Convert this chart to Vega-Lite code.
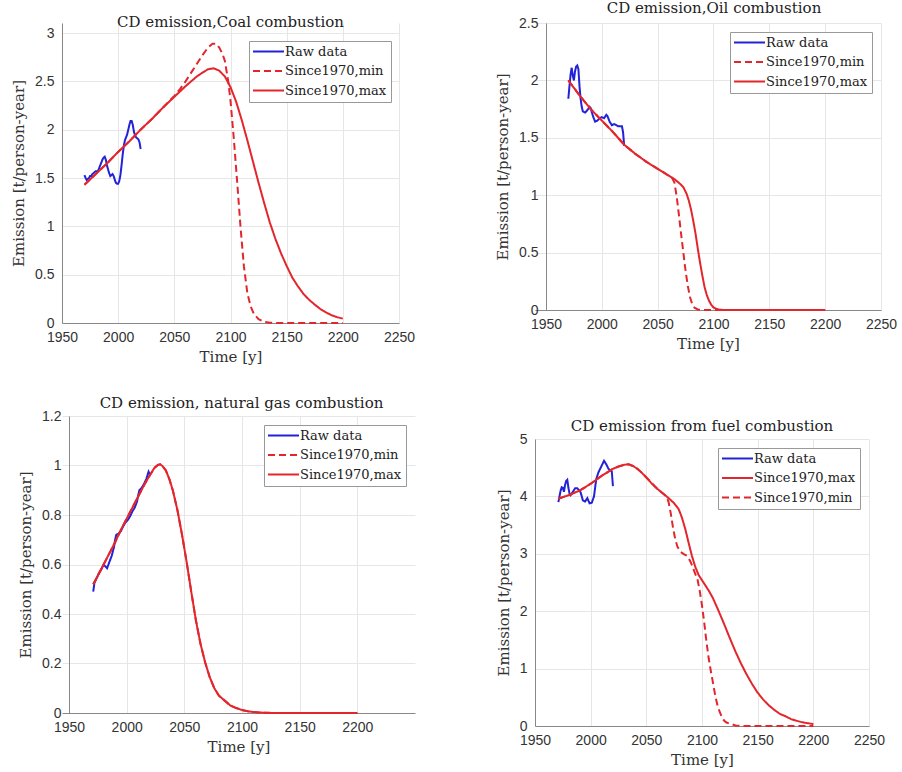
{
  "$schema": "https://vega.github.io/schema/vega-lite/v6.json",
  "background": "white",
  "padding": {"left": 11, "top": 1, "right": 5, "bottom": 5},
  "config": {
    "view": {"stroke": null},
    "font": "DejaVu Serif",
    "title": {"font": "DejaVu Serif", "fontSize": 15, "fontWeight": "normal", "color": "#222222", "offset": -2, "anchor": "middle"},
    "axis": {"labelFont": "Liberation Sans", "labelFontSize": 14, "labelColor": "#333333", "titleFont": "DejaVu Serif", "titleFontSize": 15, "titleFontWeight": "normal", "titleColor": "#333333", "gridColor": "#e6e6e6", "domainColor": "#888888", "ticks": false, "tickSize": 0, "labelPadding": 7, "titlePadding": 5},
    "axisX": {"labelFlush": false},
    "axisY": {"labelPadding": 8, "titlePadding": 8},
    "legend": {"orient": "top-right", "offset": 9, "labelFont": "DejaVu Serif", "labelFontSize": 13, "labelColor": "#222222", "symbolType": "M-1.3,0H4.9", "symbolSize": 100, "symbolStrokeWidth": 2, "strokeColor": "#999999", "fillColor": "white", "padding": 4, "rowPadding": 5.5, "labelOffset": 19, "labelLimit": 0}
  },
  "datasets": {
    "coal": [
      {"year": 1970, "value": 1.53, "series": "Raw data"}, {"year": 1971, "value": 1.50, "series": "Raw data"}, {"year": 1972, "value": 1.48, "series": "Raw data"}, {"year": 1973, "value": 1.49, "series": "Raw data"}, {"year": 1974, "value": 1.50, "series": "Raw data"}, {"year": 1975, "value": 1.52, "series": "Raw data"}, {"year": 1976, "value": 1.52, "series": "Raw data"}, {"year": 1977, "value": 1.54, "series": "Raw data"}, {"year": 1978, "value": 1.55, "series": "Raw data"}, {"year": 1979, "value": 1.56, "series": "Raw data"}, {"year": 1980, "value": 1.57, "series": "Raw data"}, {"year": 1981, "value": 1.57, "series": "Raw data"}, {"year": 1982, "value": 1.57, "series": "Raw data"}, {"year": 1983, "value": 1.60, "series": "Raw data"}, {"year": 1984, "value": 1.63, "series": "Raw data"}, {"year": 1985, "value": 1.66, "series": "Raw data"}, {"year": 1986, "value": 1.69, "series": "Raw data"}, {"year": 1987, "value": 1.71, "series": "Raw data"}, {"year": 1988, "value": 1.72, "series": "Raw data"}, {"year": 1989, "value": 1.69, "series": "Raw data"}, {"year": 1990, "value": 1.63, "series": "Raw data"}, {"year": 1991, "value": 1.59, "series": "Raw data"}, {"year": 1992, "value": 1.55, "series": "Raw data"}, {"year": 1993, "value": 1.52, "series": "Raw data"}, {"year": 1994, "value": 1.53, "series": "Raw data"}, {"year": 1995, "value": 1.54, "series": "Raw data"}, {"year": 1996, "value": 1.52, "series": "Raw data"}, {"year": 1997, "value": 1.48, "series": "Raw data"}, {"year": 1998, "value": 1.45, "series": "Raw data"}, {"year": 1999, "value": 1.44, "series": "Raw data"}, {"year": 2000, "value": 1.44, "series": "Raw data"}, {"year": 2001, "value": 1.47, "series": "Raw data"}, {"year": 2002, "value": 1.53, "series": "Raw data"}, {"year": 2003, "value": 1.63, "series": "Raw data"}, {"year": 2004, "value": 1.74, "series": "Raw data"}, {"year": 2005, "value": 1.83, "series": "Raw data"}, {"year": 2006, "value": 1.89, "series": "Raw data"}, {"year": 2007, "value": 1.92, "series": "Raw data"}, {"year": 2008, "value": 1.95, "series": "Raw data"}, {"year": 2009, "value": 2.00, "series": "Raw data"}, {"year": 2010, "value": 2.05, "series": "Raw data"}, {"year": 2011, "value": 2.09, "series": "Raw data"}, {"year": 2012, "value": 2.09, "series": "Raw data"}, {"year": 2013, "value": 2.05, "series": "Raw data"}, {"year": 2014, "value": 1.98, "series": "Raw data"}, {"year": 2015, "value": 1.94, "series": "Raw data"}, {"year": 2016, "value": 1.92, "series": "Raw data"}, {"year": 2017, "value": 1.91, "series": "Raw data"}, {"year": 2018, "value": 1.90, "series": "Raw data"}, {"year": 2019, "value": 1.87, "series": "Raw data"}, {"year": 2020, "value": 1.80, "series": "Raw data"},
      {"year": 1970, "value": 1.43, "series": "Since1970,min"}, {"year": 1980, "value": 1.54, "series": "Since1970,min"}, {"year": 1990, "value": 1.65, "series": "Since1970,min"}, {"year": 2000, "value": 1.77, "series": "Since1970,min"}, {"year": 2010, "value": 1.88, "series": "Since1970,min"}, {"year": 2020, "value": 2.00, "series": "Since1970,min"}, {"year": 2030, "value": 2.11, "series": "Since1970,min"}, {"year": 2040, "value": 2.23, "series": "Since1970,min"}, {"year": 2050, "value": 2.35, "series": "Since1970,min"}, {"year": 2055, "value": 2.42, "series": "Since1970,min"}, {"year": 2060, "value": 2.50, "series": "Since1970,min"}, {"year": 2065, "value": 2.59, "series": "Since1970,min"}, {"year": 2070, "value": 2.68, "series": "Since1970,min"}, {"year": 2075, "value": 2.77, "series": "Since1970,min"}, {"year": 2080, "value": 2.85, "series": "Since1970,min"}, {"year": 2084, "value": 2.89, "series": "Since1970,min"}, {"year": 2087, "value": 2.89, "series": "Since1970,min"}, {"year": 2090, "value": 2.85, "series": "Since1970,min"}, {"year": 2093, "value": 2.78, "series": "Since1970,min"}, {"year": 2095, "value": 2.71, "series": "Since1970,min"}, {"year": 2098, "value": 2.50, "series": "Since1970,min"}, {"year": 2100, "value": 2.30, "series": "Since1970,min"}, {"year": 2103, "value": 1.90, "series": "Since1970,min"}, {"year": 2106, "value": 1.45, "series": "Since1970,min"}, {"year": 2109, "value": 0.98, "series": "Since1970,min"}, {"year": 2112, "value": 0.58, "series": "Since1970,min"}, {"year": 2115, "value": 0.31, "series": "Since1970,min"}, {"year": 2118, "value": 0.17, "series": "Since1970,min"}, {"year": 2121, "value": 0.09, "series": "Since1970,min"}, {"year": 2125, "value": 0.04, "series": "Since1970,min"}, {"year": 2130, "value": 0.012, "series": "Since1970,min"}, {"year": 2135, "value": 0.003, "series": "Since1970,min"}, {"year": 2140, "value": 0, "series": "Since1970,min"}, {"year": 2200, "value": 0, "series": "Since1970,min"},
      {"year": 1970, "value": 1.43, "series": "Since1970,max"}, {"year": 1980, "value": 1.54, "series": "Since1970,max"}, {"year": 1990, "value": 1.65, "series": "Since1970,max"}, {"year": 2000, "value": 1.77, "series": "Since1970,max"}, {"year": 2010, "value": 1.88, "series": "Since1970,max"}, {"year": 2020, "value": 2.00, "series": "Since1970,max"}, {"year": 2030, "value": 2.11, "series": "Since1970,max"}, {"year": 2040, "value": 2.23, "series": "Since1970,max"}, {"year": 2050, "value": 2.34, "series": "Since1970,max"}, {"year": 2060, "value": 2.45, "series": "Since1970,max"}, {"year": 2070, "value": 2.55, "series": "Since1970,max"}, {"year": 2075, "value": 2.59, "series": "Since1970,max"}, {"year": 2080, "value": 2.625, "series": "Since1970,max"}, {"year": 2085, "value": 2.635, "series": "Since1970,max"}, {"year": 2090, "value": 2.61, "series": "Since1970,max"}, {"year": 2095, "value": 2.55, "series": "Since1970,max"}, {"year": 2100, "value": 2.44, "series": "Since1970,max"}, {"year": 2105, "value": 2.29, "series": "Since1970,max"}, {"year": 2110, "value": 2.10, "series": "Since1970,max"}, {"year": 2115, "value": 1.89, "series": "Since1970,max"}, {"year": 2120, "value": 1.67, "series": "Since1970,max"}, {"year": 2125, "value": 1.45, "series": "Since1970,max"}, {"year": 2130, "value": 1.24, "series": "Since1970,max"}, {"year": 2135, "value": 1.04, "series": "Since1970,max"}, {"year": 2140, "value": 0.87, "series": "Since1970,max"}, {"year": 2145, "value": 0.72, "series": "Since1970,max"}, {"year": 2150, "value": 0.59, "series": "Since1970,max"}, {"year": 2155, "value": 0.47, "series": "Since1970,max"}, {"year": 2160, "value": 0.38, "series": "Since1970,max"}, {"year": 2165, "value": 0.30, "series": "Since1970,max"}, {"year": 2170, "value": 0.24, "series": "Since1970,max"}, {"year": 2175, "value": 0.19, "series": "Since1970,max"}, {"year": 2180, "value": 0.145, "series": "Since1970,max"}, {"year": 2185, "value": 0.11, "series": "Since1970,max"}, {"year": 2190, "value": 0.08, "series": "Since1970,max"}, {"year": 2195, "value": 0.06, "series": "Since1970,max"}, {"year": 2200, "value": 0.045, "series": "Since1970,max"}
    ],
    "oil": [
      {"year": 1970, "value": 1.84, "series": "Raw data"}, {"year": 1971, "value": 1.95, "series": "Raw data"}, {"year": 1972, "value": 2.05, "series": "Raw data"}, {"year": 1973, "value": 2.11, "series": "Raw data"}, {"year": 1974, "value": 2.04, "series": "Raw data"}, {"year": 1975, "value": 2.00, "series": "Raw data"}, {"year": 1976, "value": 2.08, "series": "Raw data"}, {"year": 1977, "value": 2.12, "series": "Raw data"}, {"year": 1978, "value": 2.13, "series": "Raw data"}, {"year": 1979, "value": 2.10, "series": "Raw data"}, {"year": 1980, "value": 1.95, "series": "Raw data"}, {"year": 1981, "value": 1.84, "series": "Raw data"}, {"year": 1982, "value": 1.77, "series": "Raw data"}, {"year": 1983, "value": 1.73, "series": "Raw data"}, {"year": 1985, "value": 1.72, "series": "Raw data"}, {"year": 1987, "value": 1.74, "series": "Raw data"}, {"year": 1989, "value": 1.77, "series": "Raw data"}, {"year": 1990, "value": 1.76, "series": "Raw data"}, {"year": 1992, "value": 1.69, "series": "Raw data"}, {"year": 1994, "value": 1.64, "series": "Raw data"}, {"year": 1996, "value": 1.65, "series": "Raw data"}, {"year": 1998, "value": 1.67, "series": "Raw data"}, {"year": 2000, "value": 1.68, "series": "Raw data"}, {"year": 2002, "value": 1.67, "series": "Raw data"}, {"year": 2004, "value": 1.70, "series": "Raw data"}, {"year": 2005, "value": 1.69, "series": "Raw data"}, {"year": 2007, "value": 1.64, "series": "Raw data"}, {"year": 2009, "value": 1.61, "series": "Raw data"}, {"year": 2011, "value": 1.62, "series": "Raw data"}, {"year": 2013, "value": 1.61, "series": "Raw data"}, {"year": 2015, "value": 1.60, "series": "Raw data"}, {"year": 2017, "value": 1.60, "series": "Raw data"}, {"year": 2018, "value": 1.60, "series": "Raw data"}, {"year": 2019, "value": 1.55, "series": "Raw data"}, {"year": 2020, "value": 1.43, "series": "Raw data"},
      {"year": 1970, "value": 2.00, "series": "Since1970,min"}, {"year": 1980, "value": 1.87, "series": "Since1970,min"}, {"year": 1990, "value": 1.75, "series": "Since1970,min"}, {"year": 2000, "value": 1.65, "series": "Since1970,min"}, {"year": 2010, "value": 1.55, "series": "Since1970,min"}, {"year": 2020, "value": 1.44, "series": "Since1970,min"}, {"year": 2030, "value": 1.36, "series": "Since1970,min"}, {"year": 2040, "value": 1.29, "series": "Since1970,min"}, {"year": 2050, "value": 1.23, "series": "Since1970,min"}, {"year": 2060, "value": 1.17, "series": "Since1970,min"}, {"year": 2063, "value": 1.15, "series": "Since1970,min"}, {"year": 2065, "value": 1.11, "series": "Since1970,min"}, {"year": 2067, "value": 0.99, "series": "Since1970,min"}, {"year": 2069, "value": 0.83, "series": "Since1970,min"}, {"year": 2071, "value": 0.66, "series": "Since1970,min"}, {"year": 2073, "value": 0.50, "series": "Since1970,min"}, {"year": 2075, "value": 0.34, "series": "Since1970,min"}, {"year": 2077, "value": 0.21, "series": "Since1970,min"}, {"year": 2079, "value": 0.11, "series": "Since1970,min"}, {"year": 2081, "value": 0.05, "series": "Since1970,min"}, {"year": 2083, "value": 0.02, "series": "Since1970,min"}, {"year": 2086, "value": 0.005, "series": "Since1970,min"}, {"year": 2090, "value": 0, "series": "Since1970,min"}, {"year": 2200, "value": 0, "series": "Since1970,min"},
      {"year": 1970, "value": 2.00, "series": "Since1970,max"}, {"year": 1980, "value": 1.87, "series": "Since1970,max"}, {"year": 1990, "value": 1.75, "series": "Since1970,max"}, {"year": 2000, "value": 1.65, "series": "Since1970,max"}, {"year": 2010, "value": 1.55, "series": "Since1970,max"}, {"year": 2020, "value": 1.44, "series": "Since1970,max"}, {"year": 2030, "value": 1.36, "series": "Since1970,max"}, {"year": 2040, "value": 1.29, "series": "Since1970,max"}, {"year": 2050, "value": 1.23, "series": "Since1970,max"}, {"year": 2060, "value": 1.17, "series": "Since1970,max"}, {"year": 2065, "value": 1.14, "series": "Since1970,max"}, {"year": 2070, "value": 1.10, "series": "Since1970,max"}, {"year": 2073, "value": 1.07, "series": "Since1970,max"}, {"year": 2076, "value": 1.01, "series": "Since1970,max"}, {"year": 2078, "value": 0.95, "series": "Since1970,max"}, {"year": 2080, "value": 0.87, "series": "Since1970,max"}, {"year": 2082, "value": 0.77, "series": "Since1970,max"}, {"year": 2084, "value": 0.66, "series": "Since1970,max"}, {"year": 2086, "value": 0.53, "series": "Since1970,max"}, {"year": 2088, "value": 0.41, "series": "Since1970,max"}, {"year": 2090, "value": 0.30, "series": "Since1970,max"}, {"year": 2092, "value": 0.20, "series": "Since1970,max"}, {"year": 2094, "value": 0.13, "series": "Since1970,max"}, {"year": 2096, "value": 0.08, "series": "Since1970,max"}, {"year": 2098, "value": 0.045, "series": "Since1970,max"}, {"year": 2100, "value": 0.022, "series": "Since1970,max"}, {"year": 2103, "value": 0.008, "series": "Since1970,max"}, {"year": 2106, "value": 0.002, "series": "Since1970,max"}, {"year": 2110, "value": 0, "series": "Since1970,max"}, {"year": 2200, "value": 0, "series": "Since1970,max"}
    ],
    "gas": [
      {"year": 1971, "value": 0.49, "series": "Raw data"}, {"year": 1972, "value": 0.525, "series": "Raw data"}, {"year": 1974, "value": 0.545, "series": "Raw data"}, {"year": 1976, "value": 0.565, "series": "Raw data"}, {"year": 1978, "value": 0.58, "series": "Raw data"}, {"year": 1980, "value": 0.60, "series": "Raw data"}, {"year": 1982, "value": 0.59, "series": "Raw data"}, {"year": 1983, "value": 0.585, "series": "Raw data"}, {"year": 1985, "value": 0.61, "series": "Raw data"}, {"year": 1987, "value": 0.635, "series": "Raw data"}, {"year": 1989, "value": 0.67, "series": "Raw data"}, {"year": 1990, "value": 0.70, "series": "Raw data"}, {"year": 1991, "value": 0.72, "series": "Raw data"}, {"year": 1993, "value": 0.725, "series": "Raw data"}, {"year": 1995, "value": 0.735, "series": "Raw data"}, {"year": 1997, "value": 0.755, "series": "Raw data"}, {"year": 1999, "value": 0.77, "series": "Raw data"}, {"year": 2001, "value": 0.78, "series": "Raw data"}, {"year": 2003, "value": 0.795, "series": "Raw data"}, {"year": 2005, "value": 0.815, "series": "Raw data"}, {"year": 2007, "value": 0.83, "series": "Raw data"}, {"year": 2009, "value": 0.855, "series": "Raw data"}, {"year": 2010, "value": 0.88, "series": "Raw data"}, {"year": 2011, "value": 0.90, "series": "Raw data"}, {"year": 2013, "value": 0.91, "series": "Raw data"}, {"year": 2015, "value": 0.925, "series": "Raw data"}, {"year": 2017, "value": 0.945, "series": "Raw data"}, {"year": 2019, "value": 0.975, "series": "Raw data"}, {"year": 2020, "value": 0.965, "series": "Raw data"},
      {"year": 1971, "value": 0.52, "series": "Since1970,min"}, {"year": 1975, "value": 0.555, "series": "Since1970,min"}, {"year": 1980, "value": 0.60, "series": "Since1970,min"}, {"year": 1985, "value": 0.645, "series": "Since1970,min"}, {"year": 1990, "value": 0.69, "series": "Since1970,min"}, {"year": 1995, "value": 0.74, "series": "Since1970,min"}, {"year": 2000, "value": 0.785, "series": "Since1970,min"}, {"year": 2005, "value": 0.83, "series": "Since1970,min"}, {"year": 2010, "value": 0.875, "series": "Since1970,min"}, {"year": 2015, "value": 0.92, "series": "Since1970,min"}, {"year": 2020, "value": 0.96, "series": "Since1970,min"}, {"year": 2024, "value": 0.99, "series": "Since1970,min"}, {"year": 2027, "value": 1.002, "series": "Since1970,min"}, {"year": 2029, "value": 1.005, "series": "Since1970,min"}, {"year": 2031, "value": 0.998, "series": "Since1970,min"}, {"year": 2034, "value": 0.98, "series": "Since1970,min"}, {"year": 2037, "value": 0.945, "series": "Since1970,min"}, {"year": 2040, "value": 0.90, "series": "Since1970,min"}, {"year": 2044, "value": 0.82, "series": "Since1970,min"}, {"year": 2048, "value": 0.72, "series": "Since1970,min"}, {"year": 2052, "value": 0.61, "series": "Since1970,min"}, {"year": 2056, "value": 0.49, "series": "Since1970,min"}, {"year": 2060, "value": 0.375, "series": "Since1970,min"}, {"year": 2064, "value": 0.28, "series": "Since1970,min"}, {"year": 2068, "value": 0.205, "series": "Since1970,min"}, {"year": 2072, "value": 0.145, "series": "Since1970,min"}, {"year": 2076, "value": 0.10, "series": "Since1970,min"}, {"year": 2080, "value": 0.07, "series": "Since1970,min"}, {"year": 2085, "value": 0.05, "series": "Since1970,min"}, {"year": 2090, "value": 0.03, "series": "Since1970,min"}, {"year": 2095, "value": 0.02, "series": "Since1970,min"}, {"year": 2100, "value": 0.012, "series": "Since1970,min"}, {"year": 2105, "value": 0.007, "series": "Since1970,min"}, {"year": 2110, "value": 0.004, "series": "Since1970,min"}, {"year": 2115, "value": 0.002, "series": "Since1970,min"}, {"year": 2120, "value": 0.001, "series": "Since1970,min"}, {"year": 2130, "value": 0, "series": "Since1970,min"}, {"year": 2200, "value": 0, "series": "Since1970,min"},
      {"year": 1971, "value": 0.52, "series": "Since1970,max"}, {"year": 1975, "value": 0.555, "series": "Since1970,max"}, {"year": 1980, "value": 0.60, "series": "Since1970,max"}, {"year": 1985, "value": 0.645, "series": "Since1970,max"}, {"year": 1990, "value": 0.69, "series": "Since1970,max"}, {"year": 1995, "value": 0.74, "series": "Since1970,max"}, {"year": 2000, "value": 0.785, "series": "Since1970,max"}, {"year": 2005, "value": 0.83, "series": "Since1970,max"}, {"year": 2010, "value": 0.875, "series": "Since1970,max"}, {"year": 2015, "value": 0.92, "series": "Since1970,max"}, {"year": 2020, "value": 0.96, "series": "Since1970,max"}, {"year": 2024, "value": 0.99, "series": "Since1970,max"}, {"year": 2027, "value": 1.002, "series": "Since1970,max"}, {"year": 2029, "value": 1.005, "series": "Since1970,max"}, {"year": 2031, "value": 0.998, "series": "Since1970,max"}, {"year": 2034, "value": 0.98, "series": "Since1970,max"}, {"year": 2037, "value": 0.945, "series": "Since1970,max"}, {"year": 2040, "value": 0.90, "series": "Since1970,max"}, {"year": 2044, "value": 0.82, "series": "Since1970,max"}, {"year": 2048, "value": 0.72, "series": "Since1970,max"}, {"year": 2052, "value": 0.61, "series": "Since1970,max"}, {"year": 2056, "value": 0.49, "series": "Since1970,max"}, {"year": 2060, "value": 0.375, "series": "Since1970,max"}, {"year": 2064, "value": 0.28, "series": "Since1970,max"}, {"year": 2068, "value": 0.205, "series": "Since1970,max"}, {"year": 2072, "value": 0.145, "series": "Since1970,max"}, {"year": 2076, "value": 0.10, "series": "Since1970,max"}, {"year": 2080, "value": 0.07, "series": "Since1970,max"}, {"year": 2085, "value": 0.05, "series": "Since1970,max"}, {"year": 2090, "value": 0.03, "series": "Since1970,max"}, {"year": 2095, "value": 0.02, "series": "Since1970,max"}, {"year": 2100, "value": 0.012, "series": "Since1970,max"}, {"year": 2105, "value": 0.007, "series": "Since1970,max"}, {"year": 2110, "value": 0.004, "series": "Since1970,max"}, {"year": 2115, "value": 0.002, "series": "Since1970,max"}, {"year": 2120, "value": 0.001, "series": "Since1970,max"}, {"year": 2130, "value": 0, "series": "Since1970,max"}, {"year": 2200, "value": 0, "series": "Since1970,max"}
    ],
    "total": [
      {"year": 1971, "value": 3.90, "series": "Raw data"}, {"year": 1972, "value": 4.00, "series": "Raw data"}, {"year": 1973, "value": 4.10, "series": "Raw data"}, {"year": 1974, "value": 4.16, "series": "Raw data"}, {"year": 1975, "value": 4.15, "series": "Raw data"}, {"year": 1976, "value": 4.08, "series": "Raw data"}, {"year": 1977, "value": 4.20, "series": "Raw data"}, {"year": 1978, "value": 4.27, "series": "Raw data"}, {"year": 1979, "value": 4.29, "series": "Raw data"}, {"year": 1980, "value": 4.15, "series": "Raw data"}, {"year": 1981, "value": 4.05, "series": "Raw data"}, {"year": 1982, "value": 4.02, "series": "Raw data"}, {"year": 1984, "value": 4.08, "series": "Raw data"}, {"year": 1986, "value": 4.14, "series": "Raw data"}, {"year": 1988, "value": 4.14, "series": "Raw data"}, {"year": 1990, "value": 4.10, "series": "Raw data"}, {"year": 1991, "value": 4.07, "series": "Raw data"}, {"year": 1993, "value": 3.93, "series": "Raw data"}, {"year": 1995, "value": 3.91, "series": "Raw data"}, {"year": 1997, "value": 3.97, "series": "Raw data"}, {"year": 1999, "value": 3.88, "series": "Raw data"}, {"year": 2001, "value": 3.89, "series": "Raw data"}, {"year": 2003, "value": 4.00, "series": "Raw data"}, {"year": 2004, "value": 4.15, "series": "Raw data"}, {"year": 2005, "value": 4.30, "series": "Raw data"}, {"year": 2007, "value": 4.42, "series": "Raw data"}, {"year": 2009, "value": 4.50, "series": "Raw data"}, {"year": 2011, "value": 4.58, "series": "Raw data"}, {"year": 2012, "value": 4.62, "series": "Raw data"}, {"year": 2014, "value": 4.56, "series": "Raw data"}, {"year": 2016, "value": 4.48, "series": "Raw data"}, {"year": 2018, "value": 4.45, "series": "Raw data"}, {"year": 2019, "value": 4.43, "series": "Raw data"}, {"year": 2020, "value": 4.18, "series": "Raw data"},
      {"year": 1971, "value": 3.96, "series": "Since1970,min"}, {"year": 1980, "value": 4.02, "series": "Since1970,min"}, {"year": 1990, "value": 4.10, "series": "Since1970,min"}, {"year": 2000, "value": 4.22, "series": "Since1970,min"}, {"year": 2010, "value": 4.36, "series": "Since1970,min"}, {"year": 2020, "value": 4.48, "series": "Since1970,min"}, {"year": 2025, "value": 4.52, "series": "Since1970,min"}, {"year": 2030, "value": 4.55, "series": "Since1970,min"}, {"year": 2034, "value": 4.56, "series": "Since1970,min"}, {"year": 2038, "value": 4.53, "series": "Since1970,min"}, {"year": 2042, "value": 4.48, "series": "Since1970,min"}, {"year": 2046, "value": 4.41, "series": "Since1970,min"}, {"year": 2050, "value": 4.33, "series": "Since1970,min"}, {"year": 2055, "value": 4.23, "series": "Since1970,min"}, {"year": 2060, "value": 4.13, "series": "Since1970,min"}, {"year": 2065, "value": 4.05, "series": "Since1970,min"}, {"year": 2068, "value": 4.00, "series": "Since1970,min"}, {"year": 2070, "value": 3.90, "series": "Since1970,min"}, {"year": 2072, "value": 3.70, "series": "Since1970,min"}, {"year": 2074, "value": 3.45, "series": "Since1970,min"}, {"year": 2076, "value": 3.25, "series": "Since1970,min"}, {"year": 2078, "value": 3.12, "series": "Since1970,min"}, {"year": 2081, "value": 3.03, "series": "Since1970,min"}, {"year": 2084, "value": 2.99, "series": "Since1970,min"}, {"year": 2087, "value": 2.96, "series": "Since1970,min"}, {"year": 2090, "value": 2.85, "series": "Since1970,min"}, {"year": 2093, "value": 2.70, "series": "Since1970,min"}, {"year": 2096, "value": 2.55, "series": "Since1970,min"}, {"year": 2098, "value": 2.35, "series": "Since1970,min"}, {"year": 2100, "value": 2.10, "series": "Since1970,min"}, {"year": 2102, "value": 1.80, "series": "Since1970,min"}, {"year": 2104, "value": 1.47, "series": "Since1970,min"}, {"year": 2106, "value": 1.18, "series": "Since1970,min"}, {"year": 2108, "value": 0.95, "series": "Since1970,min"}, {"year": 2110, "value": 0.74, "series": "Since1970,min"}, {"year": 2112, "value": 0.52, "series": "Since1970,min"}, {"year": 2114, "value": 0.35, "series": "Since1970,min"}, {"year": 2116, "value": 0.24, "series": "Since1970,min"}, {"year": 2118, "value": 0.15, "series": "Since1970,min"}, {"year": 2120, "value": 0.09, "series": "Since1970,min"}, {"year": 2122, "value": 0.06, "series": "Since1970,min"}, {"year": 2125, "value": 0.04, "series": "Since1970,min"}, {"year": 2130, "value": 0.01, "series": "Since1970,min"}, {"year": 2135, "value": 0.002, "series": "Since1970,min"}, {"year": 2140, "value": 0, "series": "Since1970,min"}, {"year": 2200, "value": 0, "series": "Since1970,min"},
      {"year": 1971, "value": 3.96, "series": "Since1970,max"}, {"year": 1980, "value": 4.02, "series": "Since1970,max"}, {"year": 1990, "value": 4.10, "series": "Since1970,max"}, {"year": 2000, "value": 4.22, "series": "Since1970,max"}, {"year": 2010, "value": 4.36, "series": "Since1970,max"}, {"year": 2020, "value": 4.48, "series": "Since1970,max"}, {"year": 2025, "value": 4.52, "series": "Since1970,max"}, {"year": 2030, "value": 4.55, "series": "Since1970,max"}, {"year": 2034, "value": 4.56, "series": "Since1970,max"}, {"year": 2038, "value": 4.53, "series": "Since1970,max"}, {"year": 2042, "value": 4.48, "series": "Since1970,max"}, {"year": 2046, "value": 4.41, "series": "Since1970,max"}, {"year": 2050, "value": 4.33, "series": "Since1970,max"}, {"year": 2055, "value": 4.22, "series": "Since1970,max"}, {"year": 2060, "value": 4.13, "series": "Since1970,max"}, {"year": 2065, "value": 4.05, "series": "Since1970,max"}, {"year": 2070, "value": 3.97, "series": "Since1970,max"}, {"year": 2075, "value": 3.88, "series": "Since1970,max"}, {"year": 2079, "value": 3.78, "series": "Since1970,max"}, {"year": 2082, "value": 3.63, "series": "Since1970,max"}, {"year": 2085, "value": 3.43, "series": "Since1970,max"}, {"year": 2088, "value": 3.19, "series": "Since1970,max"}, {"year": 2091, "value": 2.96, "series": "Since1970,max"}, {"year": 2094, "value": 2.77, "series": "Since1970,max"}, {"year": 2097, "value": 2.63, "series": "Since1970,max"}, {"year": 2100, "value": 2.54, "series": "Since1970,max"}, {"year": 2103, "value": 2.45, "series": "Since1970,max"}, {"year": 2106, "value": 2.36, "series": "Since1970,max"}, {"year": 2110, "value": 2.22, "series": "Since1970,max"}, {"year": 2115, "value": 2.00, "series": "Since1970,max"}, {"year": 2120, "value": 1.77, "series": "Since1970,max"}, {"year": 2125, "value": 1.53, "series": "Since1970,max"}, {"year": 2130, "value": 1.30, "series": "Since1970,max"}, {"year": 2135, "value": 1.09, "series": "Since1970,max"}, {"year": 2140, "value": 0.90, "series": "Since1970,max"}, {"year": 2145, "value": 0.73, "series": "Since1970,max"}, {"year": 2150, "value": 0.58, "series": "Since1970,max"}, {"year": 2155, "value": 0.46, "series": "Since1970,max"}, {"year": 2160, "value": 0.36, "series": "Since1970,max"}, {"year": 2165, "value": 0.28, "series": "Since1970,max"}, {"year": 2170, "value": 0.21, "series": "Since1970,max"}, {"year": 2175, "value": 0.17, "series": "Since1970,max"}, {"year": 2180, "value": 0.12, "series": "Since1970,max"}, {"year": 2185, "value": 0.09, "series": "Since1970,max"}, {"year": 2190, "value": 0.065, "series": "Since1970,max"}, {"year": 2195, "value": 0.048, "series": "Since1970,max"}, {"year": 2200, "value": 0.035, "series": "Since1970,max"}
    ]
  },
  "spacing": 80,
  "resolve": {"scale": {"color": "independent", "strokeDash": "independent"}},
  "hconcat": [
    {
      "spacing": 32,
      "resolve": {"scale": {"color": "independent", "strokeDash": "independent"}},
      "vconcat": [
        {
          "width": 337, "height": 300,
          "title": {"text": "CD emission,Coal combustion", "offset": -7},
          "data": {"name": "coal"},
          "mark": {"type": "line", "strokeWidth": 2},
          "encoding": {
            "x": {"field": "year", "type": "quantitative", "scale": {"domain": [1950, 2250], "nice": false, "zero": false}, "axis": {"title": "Time [y]", "values": [1950, 2000, 2050, 2100, 2150, 2200, 2250], "format": "d"}},
            "y": {"field": "value", "type": "quantitative", "scale": {"domain": [0, 3.10345], "nice": false}, "axis": {"title": "Emission [t/person-year]", "values": [0, 0.5, 1, 1.5, 2, 2.5, 3], "format": "~g"}},
            "color": {"field": "series", "type": "nominal", "scale": {"domain": ["Raw data", "Since1970,min", "Since1970,max"], "range": ["#2222d8", "#e3262c", "#e3262c"]}, "legend": {"title": null, "orient": "none", "legendX": 187, "legendY": 18}},
            "strokeDash": {"field": "series", "type": "nominal", "scale": {"domain": ["Raw data", "Since1970,min", "Since1970,max"], "range": [[1, 0], [7, 4], [1, 0]]}, "legend": {"title": null, "orient": "none", "legendX": 187, "legendY": 18}}
          }
        },
        {
          "width": 353, "height": 297,
          "title": {"text": "CD emission, natural gas combustion", "dx": 3},
          "data": {"name": "gas"},
          "mark": {"type": "line", "strokeWidth": 2},
          "encoding": {
            "x": {"field": "year", "type": "quantitative", "scale": {"domain": [1943.924, 2250], "nice": false, "zero": false}, "axis": {"title": "Time [y]", "values": [1950, 2000, 2050, 2100, 2150, 2200], "format": "d"}},
            "y": {"field": "value", "type": "quantitative", "scale": {"domain": [0, 1.2], "nice": false}, "axis": {"title": "Emission [t/person-year]", "offset": -7, "values": [0, 0.2, 0.4, 0.6, 0.8, 1, 1.2], "format": "~g"}},
            "color": {"field": "series", "type": "nominal", "scale": {"domain": ["Raw data", "Since1970,min", "Since1970,max"], "range": ["#2222d8", "#e3262c", "#e3262c"]}, "legend": {"title": null}},
            "strokeDash": {"field": "series", "type": "nominal", "scale": {"domain": ["Raw data", "Since1970,min", "Since1970,max"], "range": [[1, 0], [7, 4], [1, 0]]}, "legend": {"title": null}}
          }
        }
      ]
    },
    {
      "spacing": 68,
      "resolve": {"scale": {"color": "independent", "strokeDash": "independent"}},
      "vconcat": [
        {
          "width": 346, "height": 287,
          "title": {"text": "CD emission,Oil combustion", "offset": 0, "dx": 6},
          "data": {"name": "oil"},
          "mark": {"type": "line", "strokeWidth": 2},
          "encoding": {
            "x": {"field": "year", "type": "quantitative", "scale": {"domain": [1940.15, 2250], "nice": false, "zero": false}, "axis": {"title": "Time [y]", "values": [1950, 2000, 2050, 2100, 2150, 2200, 2250], "format": "d"}},
            "y": {"field": "value", "type": "quantitative", "scale": {"domain": [0, 2.5], "nice": false}, "axis": {"title": "Emission [t/person-year]", "offset": -11, "values": [0, 0.5, 1, 1.5, 2, 2.5], "format": "~g"}},
            "color": {"field": "series", "type": "nominal", "scale": {"domain": ["Raw data", "Since1970,min", "Since1970,max"], "range": ["#2222d8", "#e3262c", "#e3262c"]}, "legend": {"title": null}},
            "strokeDash": {"field": "series", "type": "nominal", "scale": {"domain": ["Raw data", "Since1970,min", "Since1970,max"], "range": [[1, 0], [7, 4], [1, 0]]}, "legend": {"title": null}}
          }
        },
        {
          "width": 334, "height": 287,
          "title": "CD emission from fuel combustion",
          "data": {"name": "total"},
          "mark": {"type": "line", "strokeWidth": 2},
          "encoding": {
            "x": {"field": "year", "type": "quantitative", "scale": {"domain": [1950, 2250], "nice": false, "zero": false}, "axis": {"title": "Time [y]", "values": [1950, 2000, 2050, 2100, 2150, 2200, 2250], "format": "d"}},
            "y": {"field": "value", "type": "quantitative", "scale": {"domain": [0, 5], "nice": false}, "axis": {"title": "Emission [t/person-year]", "values": [0, 1, 2, 3, 4, 5], "format": "~g"}},
            "color": {"field": "series", "type": "nominal", "scale": {"domain": ["Raw data", "Since1970,max", "Since1970,min"], "range": ["#2222d8", "#e3262c", "#e3262c"]}, "legend": {"title": null}},
            "strokeDash": {"field": "series", "type": "nominal", "scale": {"domain": ["Raw data", "Since1970,max", "Since1970,min"], "range": [[1, 0], [1, 0], [7, 4]]}, "legend": {"title": null}}
          }
        }
      ]
    }
  ]
}
